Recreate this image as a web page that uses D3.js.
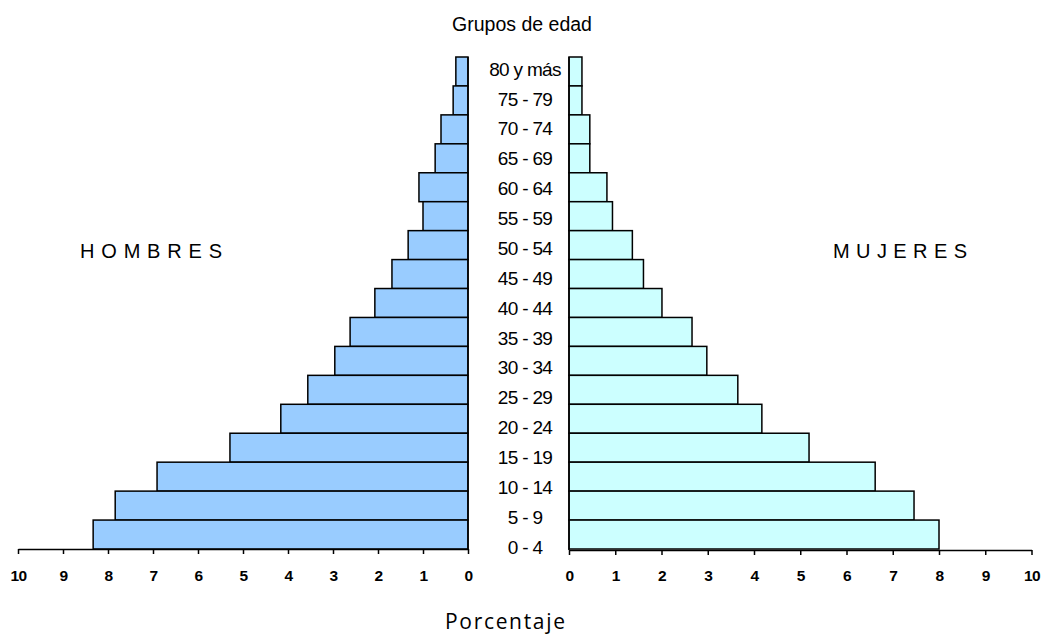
<!DOCTYPE html>
<html><head><meta charset="utf-8">
<script src="https://cdn.jsdelivr.net/npm/d3@7"></script>
<style>
body{margin:0;background:#fff;}
svg{display:block;}
</style></head>
<body>
<script>
const groups = ["80 y más","75 - 79","70 - 74","65 - 69","60 - 64","55 - 59","50 - 54","45 - 49","40 - 44","35 - 39","30 - 34","25 - 29","20 - 24","15 - 19","10 - 14","5 - 9","0 - 4"];
const hombres = [0.27,0.33,0.60,0.73,1.09,1.00,1.33,1.69,2.07,2.62,2.96,3.56,4.16,5.29,6.91,7.84,8.33];
const mujeres = [0.28,0.28,0.45,0.45,0.82,0.94,1.37,1.61,2.01,2.66,2.98,3.65,4.17,5.19,6.62,7.46,8.00];
const ticks = [0,1,2,3,4,5,6,7,8,9,10];

const W = 1042, H = 635;
const FONT = "'Liberation Sans',Arial,sans-serif";
const svg = d3.select("body").append("svg").attr("width", W).attr("height", H);

const y = d3.scaleBand().domain(groups).range([57, 549]).paddingInner(0);
const yLab = d3.scalePoint().domain(groups).range([69, 547]);
const xL = d3.scaleLinear().domain([0, 10]).range([468, 18]);
const xR = d3.scaleLinear().domain([0, 10]).range([569, 1031.5]);

// bars
svg.append("g").selectAll("rect").data(groups).join("rect")
  .attr("x", (d,i) => xL(hombres[i]))
  .attr("y", d => y(d))
  .attr("width", (d,i) => xL(0) - xL(hombres[i]))
  .attr("height", y.bandwidth())
  .attr("fill", "#99CCFF").attr("stroke", "#000").attr("stroke-width", 1.5);

svg.append("g").selectAll("rect").data(groups).join("rect")
  .attr("x", xR(0))
  .attr("y", d => y(d))
  .attr("width", (d,i) => xR(mujeres[i]) - xR(0))
  .attr("height", y.bandwidth())
  .attr("fill", "#CCFFFF").attr("stroke", "#000").attr("stroke-width", 1.5);

// vertical axis lines
svg.append("line").attr("x1", xL(0)).attr("x2", xL(0)).attr("y1", 57).attr("y2", 549).attr("stroke","#000").attr("stroke-width",1.5);
svg.append("line").attr("x1", xR(0)).attr("x2", xR(0)).attr("y1", 57).attr("y2", 550).attr("stroke","#000").attr("stroke-width",1.5);

// x axes
function styleAxis(g, off){
  g.select(".domain").attr("stroke","#000").attr("stroke-width",1.5);
  g.selectAll(".tick line").attr("stroke","#000").attr("stroke-width",1.5);
  g.selectAll(".tick text").style("font-family",FONT)
   .style("font-size","15.5px").style("font-weight","bold").attr("fill","#000")
   .attr("y", off).attr("dy", null).attr("letter-spacing","-0.6px");
}
svg.append("g").attr("transform","translate(0,549)")
  .call(d3.axisBottom(xL).tickValues(ticks).tickFormat(d3.format("d")).tickSize(5).tickSizeOuter(0))
  .call(g => styleAxis(g, 32));
svg.append("g").attr("transform","translate(0,550)")
  .call(d3.axisBottom(xR).tickValues(ticks).tickFormat(d3.format("d")).tickSize(5).tickSizeOuter(0))
  .call(g => styleAxis(g, 31));

// age labels
svg.append("g").selectAll("text").data(groups).join("text")
  .attr("x", 525).attr("y", d => yLab(d)).attr("dy","0.35em")
  .attr("text-anchor","middle").style("font-family",FONT).style("font-size","19px").attr("letter-spacing","-0.7px")
  .text(d => d);

svg.append("text").attr("x", 522).attr("y", 31).attr("text-anchor","middle")
  .style("font-family",FONT).style("font-size","19.5px").text("Grupos de edad");
svg.append("text").attr("x", 80).attr("y", 258)
  .style("font-family",FONT).style("font-size","20px")
  .attr("textLength", 142).attr("lengthAdjust","spacing").text("HOMBRES");
svg.append("text").attr("x", 833).attr("y", 258)
  .style("font-family",FONT).style("font-size","20px")
  .attr("textLength", 134).attr("lengthAdjust","spacing").text("MUJERES");
svg.append("text").attr("x", 445).attr("y", 629)
  .style("font-family","'Open Sans',sans-serif").style("font-size","21px")
  .attr("textLength", 120).attr("lengthAdjust","spacing").text("Porcentaje");
</script>
</body></html>
